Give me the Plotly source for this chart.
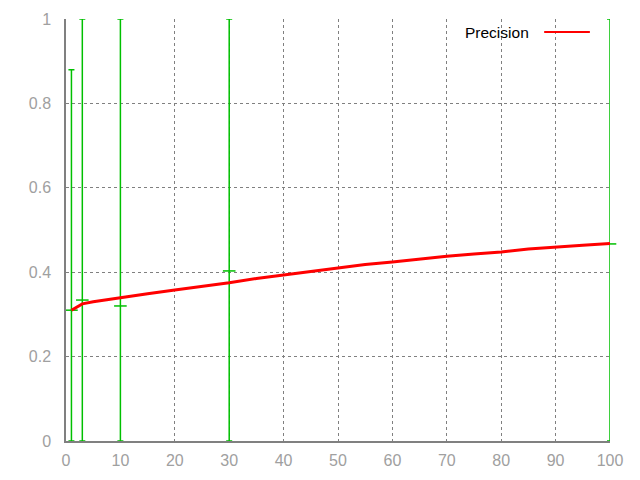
import plotly.graph_objects as go

# Precision curve
prec_x = [1, 2, 3, 5, 7, 10, 15, 20, 25, 30, 35, 40, 45, 50, 55, 60, 65, 70, 75, 80, 85, 90, 95, 100]
prec_y = [0.310, 0.318, 0.325, 0.330, 0.334, 0.339, 0.349, 0.358, 0.366, 0.375, 0.385, 0.393, 0.401, 0.410, 0.418, 0.424, 0.431, 0.438, 0.443, 0.448, 0.455, 0.460, 0.464, 0.468]

# Error-bar points
err_x = [1, 3, 10, 30, 100]
err_y = [0.310, 0.334, 0.320, 0.403, 0.467]
err_low = [0.0, 0.0, 0.0, 0.0, 0.0]
err_high = [0.88, 1.0, 1.0, 1.0, 1.0]

xticks = [0, 10, 20, 30, 40, 50, 60, 70, 80, 90, 100]
yticks = [0, 0.2, 0.4, 0.6, 0.8, 1]
ytick_text = ["0", "0.2", "0.4", "0.6", "0.8", "1"]

GREEN = "#00c000"
RED = "#ff0000"
GRAY = "#808080"
FONT = "Liberation Sans, Arial, sans-serif"

fig = go.Figure()

fig.add_trace(go.Scatter(
    x=err_x, y=err_y, mode="markers", showlegend=False, cliponaxis=False,
    marker=dict(symbol="line-ew", size=9, line=dict(color=GREEN, width=1.5), color=GREEN),
    error_y=dict(type="data", symmetric=False,
                 array=[h - y for h, y in zip(err_high, err_y)],
                 arrayminus=[y - l for l, y in zip(err_low, err_y)],
                 color=GREEN, thickness=1.5, width=3),
))

fig.add_trace(go.Scatter(
    x=prec_x, y=prec_y, mode="lines", name="Precision", showlegend=False,
    line=dict(color=RED, width=3),
))

# gnuplot-style legend (text, then sample line)
fig.add_annotation(xref="paper", yref="paper", x=0.855, y=0.969, xanchor="right", yanchor="middle",
                   text="Precision", showarrow=False, font=dict(family=FONT, size=15.5, color="#000000"))
fig.add_shape(type="line", xref="paper", yref="paper", x0=0.879, x1=0.963, y0=0.969, y1=0.969,
              line=dict(color=RED, width=2))

fig.update_layout(
    width=624, height=464,
    margin=dict(l=58, r=22, t=11, b=31),
    paper_bgcolor="white", plot_bgcolor="white",
    font=dict(family=FONT, size=16, color="#a0a0a0"),
    xaxis=dict(range=[0, 100], tickvals=xticks, showgrid=True, gridcolor=GRAY, griddash="dot", gridwidth=1,
               zeroline=False, showline=True, linecolor=GRAY, linewidth=1.5, ticks="",
               ticklabelstandoff=4, automargin=False),
    yaxis=dict(range=[0, 1], tickvals=yticks, ticktext=ytick_text, showgrid=True, gridcolor=GRAY, griddash="dot",
               gridwidth=1, zeroline=False, showline=True, linecolor=GRAY, linewidth=1.5, ticks="",
               ticklabelstandoff=10, automargin=False),
)

fig.write_html("out.html")
